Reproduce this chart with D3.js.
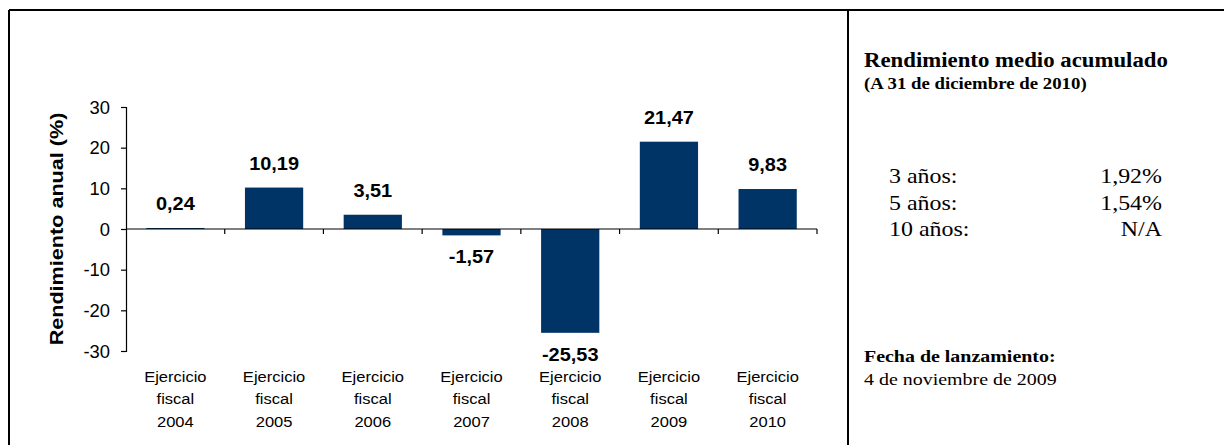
<!DOCTYPE html>
<html>
<head>
<meta charset="utf-8">
<script src="https://cdn.jsdelivr.net/npm/d3@7"></script>
<style>
  html, body { margin: 0; padding: 0; background: #fff; }
  svg { display: block; }
</style>
</head>
<body>
<svg id="chart" width="1224" height="445"></svg>
<script>
// Annual returns by fiscal year (%)
const categories = ["2004", "2005", "2006", "2007", "2008", "2009", "2010"];
const returns = [0.24, 10.19, 3.51, -1.57, -25.53, 21.47, 9.83];
const yTicks = [30, 20, 10, 0, -10, -20, -30];

// Side panel: cumulative average return
const periodLabels = ["3 años:", "5 años:", "10 años:"];
const periodValues = ["1,92%", "1,54%", "N/A"];

const fmt = v => d3.format(".2f")(v).replace("−", "-").replace(".", ",");
const SANS = "'Liberation Sans', Arial, sans-serif";
const SERIF = "'Liberation Serif', 'Times New Roman', serif";
const SX = 1.14; // glyphs are set slightly wide

const svg = d3.select("#chart");

// places a text at (x, y) with its glyphs widened horizontally
function place(sel, x, y, sx = SX) {
  sel.attr("x", 0).attr("y", 0)
     .attr("transform", `translate(${x},${y}) scale(${sx},1)`);
  return sel;
}

// Frame lines
svg.append("line").attr("x1", 9).attr("x2", 1224).attr("y1", 10).attr("y2", 10)
  .attr("stroke", "#000").attr("stroke-width", 2);
svg.append("line").attr("x1", 9).attr("x2", 9).attr("y1", 10).attr("y2", 445)
  .attr("stroke", "#000").attr("stroke-width", 2);
svg.append("line").attr("x1", 848).attr("x2", 848).attr("y1", 10).attr("y2", 445)
  .attr("stroke", "#000").attr("stroke-width", 2);

// Scales
const x = d3.scaleBand().domain(categories).range([126, 817]).paddingInner(0.41).paddingOuter(0.205);
const y = d3.scaleLinear().domain([-30, 30]).range([351, 107]);

const g = svg.append("g");

// Bars
g.selectAll("rect.bar").data(returns).join("rect")
  .attr("class", "bar")
  .attr("x", (d, i) => x(categories[i]))
  .attr("width", x.bandwidth())
  .attr("y", d => y(Math.max(0, d)))
  .attr("height", d => Math.abs(y(d) - y(0)))
  .attr("fill", "#003466");

// Y axis
const yAxis = d3.axisLeft(y).tickValues(yTicks).tickSize(5).tickFormat(d => String(d));
const ya = g.append("g").attr("transform", "translate(126,0)").call(yAxis);
ya.select(".domain").attr("stroke", "#000").attr("stroke-width", 1.2);
ya.selectAll(".tick line").attr("stroke", "#000").attr("stroke-width", 1.2);
ya.selectAll(".tick text")
  .attr("font-family", SANS)
  .attr("font-size", 17.5).attr("fill", "#000")
  .attr("dy", "0.36em").attr("x", 0)
  .attr("transform", "translate(-16,0) scale(1.05,1)");

// X axis at zero with ticks between categories
const step = x.step();
const boundaries = d3.range(1, categories.length + 1).map(i => x.range()[0] + i * step);
g.append("line").attr("x1", x.range()[0]).attr("x2", x.range()[1])
  .attr("y1", y(0)).attr("y2", y(0)).attr("stroke", "#000").attr("stroke-width", 1.2);
g.selectAll("line.xtick").data(boundaries).join("line")
  .attr("class", "xtick")
  .attr("x1", d => d).attr("x2", d => d)
  .attr("y1", y(0)).attr("y2", y(0) + 5)
  .attr("stroke", "#000").attr("stroke-width", 1.2);

// Category labels
g.selectAll("text.cat").data(categories).join("text")
  .attr("class", "cat")
  .attr("text-anchor", "middle")
  .attr("font-family", SANS)
  .attr("font-size", 14.5).attr("fill", "#000")
  .each(function(d) {
    const t = place(d3.select(this), x(d) + x.bandwidth() / 2, 382);
    ["Ejercicio", "fiscal", d].forEach((s, k) => {
      t.append("tspan").attr("x", 0).attr("y", k * 22.3).text(s);
    });
  });

// Value labels
g.selectAll("text.val").data(returns).join("text")
  .attr("class", "val")
  .attr("text-anchor", "middle")
  .attr("font-family", SANS)
  .attr("font-weight", "bold").attr("font-size", 17.5).attr("fill", "#000")
  .text(d => fmt(d))
  .each(function(d, i) {
    place(d3.select(this), x(categories[i]) + x.bandwidth() / 2,
          d >= 0 ? y(d) - 18 : y(d) + 28);
  });

// Y axis title
svg.append("text")
  .attr("transform", "translate(63,229) rotate(-90) scale(1.2,1)")
  .attr("text-anchor", "middle")
  .attr("font-family", SANS)
  .attr("font-weight", "bold").attr("font-size", 18).attr("fill", "#000")
  .text("Rendimiento anual (%)");

// Side panel
place(svg.append("text"), 864, 67)
  .attr("font-family", SERIF).attr("font-weight", "bold").attr("font-size", 20)
  .text("Rendimiento medio acumulado");
place(svg.append("text"), 864, 89)
  .attr("font-family", SERIF).attr("font-weight", "bold").attr("font-size", 16.5)
  .text("(A 31 de diciembre de 2010)");

svg.selectAll("text.plab").data(periodLabels).join("text")
  .attr("class", "plab")
  .attr("font-family", SERIF).attr("font-size", 21)
  .text(d => d)
  .each(function(d, i) { place(d3.select(this), 889, 183 + i * 26.5); });
svg.selectAll("text.pval").data(periodValues).join("text")
  .attr("class", "pval")
  .attr("text-anchor", "end")
  .attr("font-family", SERIF).attr("font-size", 21)
  .text(d => d)
  .each(function(d, i) { place(d3.select(this), 1162, 183 + i * 26.5); });

place(svg.append("text"), 864, 362)
  .attr("font-family", SERIF).attr("font-weight", "bold").attr("font-size", 17.5)
  .text("Fecha de lanzamiento:");
place(svg.append("text"), 864, 385)
  .attr("font-family", SERIF).attr("font-size", 17.5)
  .text("4 de noviembre de 2009");
</script>
</body>
</html>
